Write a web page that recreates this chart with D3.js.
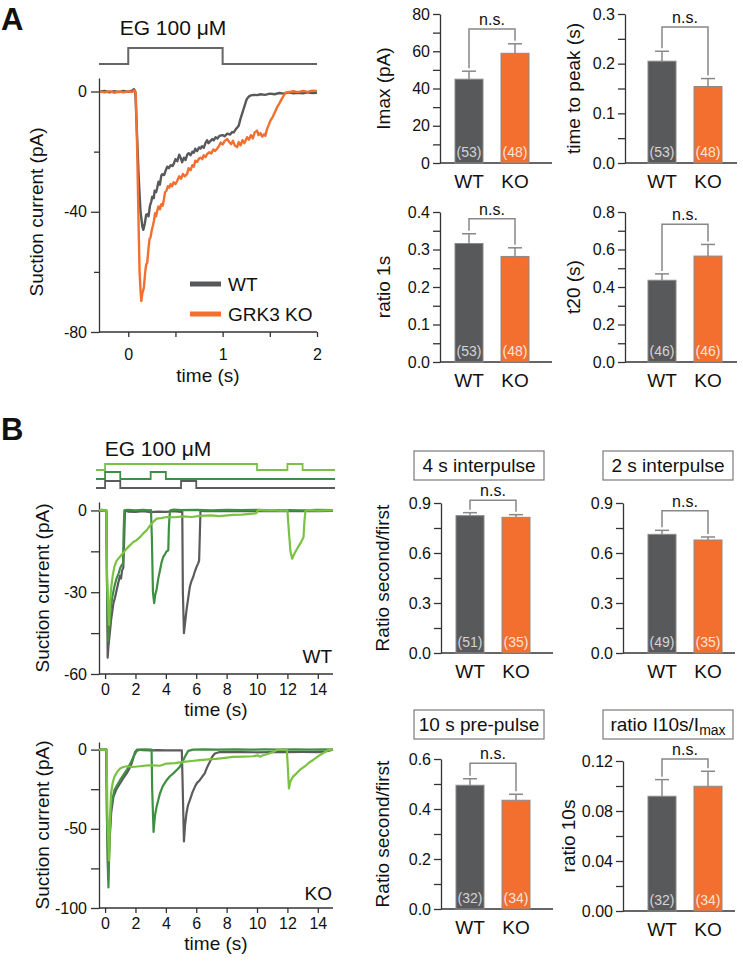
<!DOCTYPE html>
<html><head><meta charset="utf-8">
<script src="https://cdn.jsdelivr.net/npm/d3@7"></script>
<style>body{margin:0;background:#fff} text{font-family:"Liberation Sans",Arial,Helvetica,sans-serif;fill:#111}</style>
</head><body><svg id="c" width="743" height="961"></svg>
<script>
// ---------------- DATA ----------------
const groups = ["WT", "KO"];

// Panel A traces [time (s), current (pA)]
const traceA_WT = [[-0.3,0],[-0.25,0.2],[-0.2,-0.3],[-0.15,0.1],[-0.1,-0.2],[-0.05,0.2],[0,-0.1],[0.04,0.3],[0.06,0.8],[0.075,0],[0.09,-12],[0.11,-28],[0.13,-40],[0.15,-45],[0.16,-46],[0.175,-44],[0.19,-41],[0.2,-40.8],[0.215,-41.5],[0.23,-38],[0.245,-36.5],[0.254,-35],[0.27,-35.5],[0.28,-33],[0.295,-33.5],[0.307,-32],[0.32,-30],[0.335,-31],[0.35,-28],[0.36,-27.5],[0.38,-27.8],[0.4,-26],[0.413,-25],[0.43,-25.5],[0.45,-24.5],[0.47,-24.8],[0.483,-24],[0.5,-22.5],[0.52,-23.2],[0.54,-21],[0.555,-22],[0.57,-23.5],[0.59,-22],[0.607,-22.8],[0.625,-21],[0.64,-20.5],[0.66,-21.2],[0.68,-20],[0.695,-20.4],[0.71,-19],[0.73,-19.8],[0.75,-18.6],[0.765,-19],[0.78,-18.2],[0.8,-18.7],[0.82,-17],[0.836,-16.2],[0.85,-17.2],[0.87,-16.5],[0.89,-15.8],[0.906,-16.3],[0.925,-15.2],[0.945,-15.6],[0.965,-14.8],[0.977,-14.7],[1.0,-14.5],[1.02,-14.9],[1.05,-14],[1.08,-14.3],[1.1,-13.5],[1.118,-13.6],[1.14,-12.5],[1.16,-11.8],[1.171,-11.3],[1.19,-9],[1.21,-7],[1.23,-5],[1.25,-3],[1.259,-2.4],[1.28,-1.6],[1.3,-1.3],[1.33,-1.1],[1.37,-1.2],[1.4,-0.9],[1.45,-1.1],[1.5,-0.7],[1.55,-0.9],[1.6,-0.5],[1.65,-0.7],[1.7,-0.3],[1.75,-0.6],[1.8,-0.4],[1.85,-0.6],[1.9,-0.3],[1.95,-0.5],[2.0,-0.4]];
const traceA_KO = [[-0.3,0],[-0.25,-0.3],[-0.2,0.1],[-0.15,-0.4],[-0.1,0],[-0.05,-0.3],[0,0.1],[0.04,-0.2],[0.065,0.4],[0.08,-0.5],[0.095,-20],[0.11,-45],[0.12,-60],[0.13,-66],[0.138,-69.7],[0.15,-67],[0.16,-66],[0.166,-65],[0.18,-60],[0.19,-57.5],[0.201,-57],[0.215,-52],[0.226,-49],[0.236,-48.5],[0.25,-46],[0.262,-44.5],[0.272,-43],[0.285,-40.5],[0.295,-41.5],[0.307,-39.7],[0.32,-38.2],[0.335,-39.2],[0.35,-37.5],[0.365,-38],[0.377,-36],[0.39,-33.5],[0.405,-33],[0.42,-31.5],[0.435,-32],[0.448,-30.8],[0.465,-31.5],[0.48,-30.2],[0.5,-30.8],[0.519,-29.7],[0.54,-28.2],[0.56,-29],[0.58,-27.4],[0.6,-28.2],[0.624,-27.4],[0.64,-25.5],[0.66,-26.2],[0.68,-24.5],[0.695,-25],[0.71,-23],[0.73,-23.4],[0.75,-22.3],[0.765,-22],[0.785,-22.5],[0.8,-21.2],[0.82,-21.8],[0.836,-20.8],[0.86,-20.2],[0.88,-20.6],[0.9,-19.3],[0.92,-19.8],[0.942,-19],[0.96,-18.2],[0.98,-17],[1.0,-17.6],[1.02,-16.5],[1.048,-15.8],[1.07,-16.8],[1.09,-17.5],[1.11,-16.4],[1.13,-18],[1.153,-18.5],[1.17,-16.8],[1.19,-17.9],[1.21,-16.2],[1.23,-17.2],[1.259,-15.2],[1.28,-16],[1.3,-14.5],[1.32,-15.6],[1.34,-13.6],[1.365,-13],[1.38,-14.5],[1.4,-13.8],[1.42,-15],[1.44,-14.2],[1.453,-14.7],[1.47,-12.5],[1.49,-11],[1.506,-9.7],[1.53,-8.5],[1.555,-6.8],[1.577,-5.2],[1.6,-4],[1.63,-2.3],[1.665,-0.4],[1.7,-0.2],[1.75,0.1],[1.8,-0.2],[1.85,0.2],[1.9,-0.1],[1.95,0.3],[2.0,0.2]];
const stimA = [[0, 1]];

// Panel B traces, WT
const traceB_WT_4s = [[-0.4,0],[-0.2,0.2],[0,-0.1],[0.08,0],[0.12,-20],[0.17,-54],[0.22,-50],[0.33,-44],[0.4,-40],[0.55,-34],[0.65,-32],[0.77,-29],[0.85,-27],[0.98,-24],[1.05,-25],[1.12,-22],[1.2,-21],[1.25,-12],[1.31,0],[1.5,-0.4],[2,-0.5],[2.5,-0.3],[3,-0.6],[3.5,-0.4],[4,-0.5],[4.5,-0.3],[5.0,-0.5],[5.08,-0.4],[5.12,-30],[5.19,-45],[5.25,-42],[5.36,-36.6],[5.45,-33],[5.58,-28],[5.68,-26],[5.8,-24.4],[5.9,-22.5],[6.02,-20.7],[6.12,-19.5],[6.19,-18.3],[6.24,-8],[6.28,0],[6.5,-0.3],[7,-0.2],[8,-0.3],[9,-0.2],[10,-0.3],[11,-0.2],[12,-0.3],[13,-0.2],[14,-0.3],[15,-0.2]];
const traceB_WT_2s = [[-0.4,0],[-0.2,-0.2],[0,0.1],[0.08,0],[0.12,-25],[0.2,-48],[0.27,-43],[0.39,-35],[0.5,-31],[0.61,-28],[0.75,-25],[0.9,-23],[1.0,-21],[1.1,-20],[1.18,-19.5],[1.22,-8],[1.27,0],[1.5,0.2],[2,0],[2.5,0.2],[2.9,0],[3.02,0.1],[3.08,-10],[3.15,-30],[3.23,-34],[3.3,-31],[3.39,-29],[3.5,-25],[3.61,-22],[3.72,-19],[3.83,-17],[3.95,-16],[4.05,-15],[4.16,-14.6],[4.2,-6],[4.27,0],[4.5,0.3],[5,0.1],[6,0.2],[7,0],[8,0.2],[9,0.1],[10,0.2],[11,0],[12,0.1],[13,0],[14,0.2],[15,0.1]];
const traceB_WT_10s = [[-0.4,0],[-0.2,0.2],[0,0],[0.08,0.1],[0.13,-25],[0.26,-42],[0.32,-35],[0.39,-29],[0.5,-24],[0.61,-20.7],[0.75,-18.5],[0.98,-17],[1.2,-15.5],[1.42,-14],[1.6,-13],[1.86,-11.6],[2.05,-11],[2.3,-9.8],[2.5,-8.5],[2.73,-7.3],[2.9,-6],[3.06,-4.9],[3.2,-4],[3.39,-3],[3.7,-2.8],[4.05,-2.4],[4.6,-2.5],[5.14,-2.2],[5.7,-2.4],[6.23,-2],[7,-1.8],[7.5,-2.1],[8.42,-1.6],[9,-1.5],[9.73,-1.2],[9.95,-1],[10.06,0.2],[10.5,0],[11,0.1],[11.5,-0.1],[12.0,0],[12.1,-8],[12.2,-15],[12.31,-17.7],[12.45,-16],[12.58,-14.6],[12.75,-13],[12.9,-11.6],[13.06,-9.8],[13.12,-4],[13.19,0],[13.5,0.1],[14,-0.1],[14.5,0],[15,0]];
// Panel B traces, KO
const traceB_KO_4s = [[-0.4,0],[-0.2,0.2],[0,0],[0.08,0],[0.12,-40],[0.2,-82],[0.28,-60],[0.4,-40],[0.55,-29.8],[0.75,-25],[0.98,-21.4],[1.2,-18],[1.42,-15],[1.6,-12],[1.75,-8.8],[1.87,-5],[1.97,-1.5],[2.12,0],[2.5,-0.3],[3,-0.5],[3.5,-0.3],[4,-0.5],[4.5,-0.4],[5.05,-0.5],[5.1,-20],[5.19,-58],[5.26,-48],[5.36,-40],[5.46,-35],[5.58,-31.9],[5.75,-27],[5.91,-23.5],[6.05,-21],[6.23,-19.3],[6.4,-17],[6.56,-15],[6.7,-11.5],[6.89,-7.8],[7.05,-4.5],[7.22,-2.5],[7.55,-1.5],[8,-1.6],[9,-1.5],[10,-1.7],[11,-1.5],[12,-1.6],[13,-1.5],[14,-1.6],[14.5,-1.2],[14.8,-0.5],[15,0]];
const traceB_KO_2s = [[-0.4,0],[-0.2,-0.2],[0,0.1],[0.08,0],[0.13,-45],[0.22,-87],[0.3,-55],[0.39,-36],[0.61,-25.6],[0.98,-19.3],[1.42,-13],[1.65,-9],[1.86,-4.6],[2.08,-0.8],[2.3,0],[2.6,0.2],[3.0,0],[3.06,0],[3.1,-25],[3.19,-52],[3.28,-42],[3.39,-36],[3.61,-27.7],[3.8,-23],[4.05,-19.3],[4.25,-17],[4.49,-15],[4.7,-13],[4.92,-10.9],[5.1,-7.5],[5.25,-4.6],[5.47,-0.8],[5.8,0],[6.5,0.2],[7.5,0],[8.5,0.2],[9.5,0],[10.5,0.1],[11.5,0],[12.5,0.2],[13.5,0],[14.5,0.1],[15,0]];
const traceB_KO_10s = [[-0.4,0],[-0.2,0.1],[0,0],[0.1,0],[0.15,-40],[0.26,-70],[0.32,-45],[0.39,-27.7],[0.5,-21],[0.61,-17.2],[0.8,-14],[0.98,-12],[1.2,-11],[1.42,-10.5],[1.8,-11],[2.3,-10.5],[2.8,-10],[3.2,-9.9],[3.6,-10.2],[4.05,-8.8],[4.6,-8.5],[5.14,-7.8],[5.7,-7.2],[6.23,-6.7],[6.8,-6.2],[7.3,-5.9],[7.9,-5.2],[8.42,-4.6],[9.1,-4.4],[9.73,-4.2],[10.06,-3.6],[10.2,-4.5],[10.39,-3.6],[10.7,-2.8],[11.05,-1.5],[11.37,0],[11.96,0],[12.02,-10],[12.1,-24.5],[12.2,-20],[12.36,-17.2],[12.6,-15],[12.8,-13],[13.0,-11.5],[13.23,-9.9],[13.45,-8],[13.67,-6.7],[13.9,-5],[14.11,-3.6],[14.4,-2],[14.65,-0.4],[14.87,0],[15,0]];
const stimB_10s = [[0, 10], [12, 13]];
const stimB_2s = [[0, 1], [3, 4]];
const stimB_4s = [[0, 1], [5, 6]];

// Bar chart values: mean, SEM, n, bracket height
const imaxMean = [45, 58.9], imaxErr = [4.3, 5.1], imaxN = [53, 48], imaxBracket = 72;
const ttpMean = [0.205, 0.154], ttpErr = [0.02, 0.016], ttpN = [53, 48], ttpBracket = 0.274;
const r1Mean = [0.316, 0.2815], r1Err = [0.026, 0.023], r1N = [53, 48], r1Bracket = 0.382;
const t20Mean = [0.436, 0.565], t20Err = [0.034, 0.062], t20N = [46, 46], t20Bracket = 0.735;
const i4Mean = [0.824, 0.814], i4Err = [0.018, 0.016], i4N = [51, 35], i4Bracket = 0.916;
const i2Mean = [0.712, 0.678], i2Err = [0.024, 0.018], i2N = [49, 35], i2Bracket = 0.854;
const p10Mean = [0.495, 0.435], p10Err = [0.026, 0.024], p10N = [32, 34], p10Bracket = 0.583;
const r10Mean = [0.0918, 0.0998], r10Err = [0.0133, 0.012], r10N = [32, 34], r10Bracket = 0.1216;

// Tick values
const imaxTicks = [0, 20, 40, 60, 80], imaxMinor = [10, 30, 50, 70];
const ttpTicks = [0, 0.1, 0.2, 0.3], ttpMinor = [0.05, 0.15, 0.25];
const r1Ticks = [0, 0.1, 0.2, 0.3, 0.4], r1Minor = [0.05, 0.15, 0.25, 0.35];
const t20Ticks = [0, 0.2, 0.4, 0.6, 0.8], t20Minor = [0.1, 0.3, 0.5, 0.7];
const iTicks = [0, 0.3, 0.6, 0.9], iMinor = [0.15, 0.45, 0.75];
const p10Ticks = [0, 0.2, 0.4, 0.6], p10Minor = [0.1, 0.3, 0.5];
const r10Ticks = [0, 0.04, 0.08, 0.12], r10Minor = [0.02, 0.06, 0.1];
const traceATimeTicks = [0, 1, 2], traceATimeMinor = [0.5, 1.5];
const traceACurTicks = [0, -40, -80], traceACurMinor = [-20, -60];
const traceBTimeTicks = [0, 2, 4, 6, 8, 10, 12, 14];
const traceBWTTicks = [0, -30, -60], traceBWTMinor = [-15, -45];
const traceBKOTicks = [0, -50, -100], traceBKOMinor = [-25, -75];

// ---------------- DRAWING ----------------
const COL = {wt: "#58595b", ko: "#f26f2f", light: "#7cc242", mid: "#3f8f42", gray: "#5b5b5d",
             line: "#888888", axis: "#333333", stim: "#666666"};
const FS = {tick: 16, cat: 19, title: 19, ns: 16, n: 14, box: 19, eg: 21, panel: 31};
const svg = d3.select("#c");
svg.append("rect").attr("width", 743).attr("height", 961).attr("fill", "#fff");

function txt(g, x, y, s, size, anchor) {
  return g.append("text").attr("x", x).attr("y", y).attr("font-size", size)
    .attr("text-anchor", anchor || "start").text(s);
}
function vtxt(g, x, y, s, size) {
  return g.append("text").attr("transform", `translate(${x},${y}) rotate(-90)`)
    .attr("text-anchor", "middle").attr("font-size", size).text(s);
}
function styleAxis(sel, fontSize) {
  sel.select(".domain").attr("stroke", COL.axis).attr("stroke-width", 1.3);
  sel.selectAll(".tick line").attr("stroke", COL.axis).attr("stroke-width", 1.3);
  sel.selectAll(".tick text").attr("font-size", fontSize).attr("fill", "#111")
    .attr("font-family", '"Liberation Sans",Arial,sans-serif');
}

// ---- generic bar chart ----
function barChart(o) {
  const g = svg.append("g");
  const y = d3.scaleLinear().domain([0, o.max]).range([o.y0, o.yTop]);
  const x = d3.scaleBand().domain(groups).range([o.bx, o.bx + 74]).paddingInner(18 / 46).paddingOuter(0);
  const fmt = d3.format(o.fmt);
  const major = d3.axisLeft(y).tickValues(o.ticks).tickSize(7).tickSizeOuter(0).tickPadding(3).tickFormat(fmt);
  const ga = g.append("g").attr("transform", `translate(${o.ax},0)`).call(major);
  styleAxis(ga, FS.tick);
  const minor = d3.axisLeft(y).tickValues(o.minor).tickSize(7).tickSizeOuter(0).tickFormat("");
  const gm = g.append("g").attr("transform", `translate(${o.ax},0)`).call(minor);
  styleAxis(gm, FS.tick);
  gm.select(".domain").remove();
  g.append("line").attr("x1", o.ax).attr("x2", o.ax + 112).attr("y1", o.y0).attr("y2", o.y0)
    .attr("stroke", COL.axis).attr("stroke-width", 1.3);
  const cols = [COL.wt, COL.ko];
  const nCols = ["#d4d4d4", "#ffe4d6"];
  groups.forEach((k, i) => {
    const cx = x(k) + x.bandwidth() / 2;
    g.append("line").attr("x1", cx).attr("x2", cx).attr("y1", y(o.mean[i])).attr("y2", y(o.mean[i] + o.err[i]))
      .attr("stroke", COL.line).attr("stroke-width", 1.5);
    g.append("line").attr("x1", cx - 7).attr("x2", cx + 7).attr("y1", y(o.mean[i] + o.err[i])).attr("y2", y(o.mean[i] + o.err[i]))
      .attr("stroke", COL.line).attr("stroke-width", 1.5);
    g.append("rect").attr("x", x(k)).attr("width", x.bandwidth()).attr("y", y(o.mean[i]))
      .attr("height", y(0) - y(o.mean[i])).attr("fill", cols[i]).attr("stroke", "#8a8a8a").attr("stroke-width", 1);
    txt(g, cx, o.y0 - 6, `(${o.n[i]})`, FS.n, "middle").style("fill", nCols[i]);
    txt(g, cx, o.y0 + 25, k, FS.cat, "middle");
  });
  const c0 = x("WT") + x.bandwidth() / 2, c1 = x("KO") + x.bandwidth() / 2;
  const yb = y(o.bracket);
  g.append("path").attr("d", `M${c0},${y(o.mean[0] + o.err[0]) - 3}V${yb}H${c1}V${y(o.mean[1] + o.err[1]) - 3}`)
    .attr("fill", "none").attr("stroke", COL.line).attr("stroke-width", 1.5);
  txt(g, (c0 + c1) / 2, yb - 4, "n.s.", FS.ns, "middle");
  if (o.label) vtxt(g, o.labX, (o.y0 + o.yTop) / 2, o.label, FS.title);
  return g;
}

barChart({ax: 440, bx: 455, y0: 163, yTop: 14, max: 80, fmt: "d", ticks: imaxTicks, minor: imaxMinor,
  mean: imaxMean, err: imaxErr, n: imaxN, bracket: imaxBracket, label: "Imax (pA)", labX: 390});
barChart({ax: 625, bx: 648, y0: 163, yTop: 14, max: 0.3, fmt: ".1f", ticks: ttpTicks, minor: ttpMinor,
  mean: ttpMean, err: ttpErr, n: ttpN, bracket: ttpBracket, label: "time to peak (s)", labX: 580});
barChart({ax: 440, bx: 455, y0: 362, yTop: 212, max: 0.4, fmt: ".1f", ticks: r1Ticks, minor: r1Minor,
  mean: r1Mean, err: r1Err, n: r1N, bracket: r1Bracket, label: "ratio 1s", labX: 390});
barChart({ax: 625, bx: 648, y0: 362, yTop: 212, max: 0.8, fmt: ".1f", ticks: t20Ticks, minor: t20Minor,
  mean: t20Mean, err: t20Err, n: t20N, bracket: t20Bracket, label: "t20 (s)", labX: 580});
barChart({ax: 441, bx: 456, y0: 653, yTop: 503, max: 0.9, fmt: ".1f", ticks: iTicks, minor: iMinor,
  mean: i4Mean, err: i4Err, n: i4N, bracket: i4Bracket, label: "Ratio second/first", labX: 389});
barChart({ax: 623, bx: 648, y0: 653, yTop: 503, max: 0.9, fmt: ".1f", ticks: iTicks, minor: iMinor,
  mean: i2Mean, err: i2Err, n: i2N, bracket: i2Bracket, label: "", labX: 578});
barChart({ax: 441, bx: 456, y0: 909, yTop: 759, max: 0.6, fmt: ".1f", ticks: p10Ticks, minor: p10Minor,
  mean: p10Mean, err: p10Err, n: p10N, bracket: p10Bracket, label: "Ratio second/first", labX: 389});
barChart({ax: 623, bx: 648, y0: 911, yTop: 761, max: 0.12, fmt: ".2f", ticks: r10Ticks, minor: r10Minor,
  mean: r10Mean, err: r10Err, n: r10N, bracket: r10Bracket, label: "ratio 10s", labX: 575});

// Box titles
function boxTitle(x, y, w, h, build) {
  svg.append("rect").attr("x", x).attr("y", y).attr("width", w).attr("height", h)
    .attr("fill", "none").attr("stroke", "#7a7a7a").attr("stroke-width", 1.2);
  const t = svg.append("text").attr("x", x + w / 2).attr("y", y + h - 8.5).attr("text-anchor", "middle").attr("font-size", FS.box);
  build(t);
}
boxTitle(414, 451, 130, 29, t => t.text("4 s interpulse"));
boxTitle(603, 451, 130, 29, t => t.text("2 s interpulse"));
boxTitle(414, 710, 130, 29, t => t.text("10 s pre-pulse"));
boxTitle(603, 710, 130, 29, t => {
  t.append("tspan").text("ratio I10s/I");
  t.append("tspan").attr("font-size", 14).attr("dy", 4).text("max");
});

// ---------------- Panel A traces ----------------
const gA = svg.append("g");
txt(gA, 1, 30, "A", FS.panel).attr("font-weight", "bold");
const xA = d3.scaleLinear().domain([-0.31, 2]).range([99, 317]);
const yA = d3.scaleLinear().domain([-80, 4.5]).range([332, 78]);
function stimPath(x, intervals, x0, x1, yLow, yHigh) {
  let d = `M${x0},${yLow}`;
  intervals.forEach(([a, b]) => { d += `H${x(a)}V${yHigh}H${x(b)}V${yLow}`; });
  return d + `H${x1}`;
}
gA.append("path").attr("d", stimPath(xA, stimA, 99, 317, 64, 48)).attr("fill", "none")
  .attr("stroke", COL.stim).attr("stroke-width", 2);
txt(gA, 173, 35, "EG 100 \u03bcM", FS.eg, "middle");
const gAy = gA.append("g").attr("transform", "translate(99,0)")
  .call(d3.axisLeft(yA).tickValues(traceACurTicks).tickSize(8).tickSizeOuter(0).tickPadding(4).tickFormat(d => String(d)));
styleAxis(gAy, FS.tick);
const gAym = gA.append("g").attr("transform", "translate(99,0)")
  .call(d3.axisLeft(yA).tickValues(traceACurMinor).tickSize(5).tickSizeOuter(0).tickFormat(""));
styleAxis(gAym, FS.tick); gAym.select(".domain").remove();
const gAx = gA.append("g").attr("transform", "translate(0,332)")
  .call(d3.axisBottom(xA).tickValues(traceATimeTicks).tickSize(5).tickSizeOuter(0).tickPadding(12).tickFormat(d3.format("d")));
styleAxis(gAx, FS.tick);
gAx.select(".domain").attr("d", "M99,0H317");
const gAxm = gA.append("g").attr("transform", "translate(0,332)")
  .call(d3.axisBottom(xA).tickValues(traceATimeMinor).tickSize(5).tickSizeOuter(0).tickFormat(""));
styleAxis(gAxm, FS.tick); gAxm.select(".domain").remove();
const lineA = d3.line().x(d => xA(d[0])).y(d => yA(d[1]));
gA.append("path").datum(traceA_WT).attr("d", lineA).attr("fill", "none").attr("stroke", COL.wt).attr("stroke-width", 2.4).attr("stroke-linejoin", "round");
gA.append("path").datum(traceA_KO).attr("d", lineA).attr("fill", "none").attr("stroke", COL.ko).attr("stroke-width", 2.4).attr("stroke-linejoin", "round");
vtxt(gA, 43, 212, "Suction current (pA)", FS.title);
txt(gA, 208, 382, "time (s)", FS.title, "middle");
gA.append("line").attr("x1", 190).attr("x2", 221).attr("y1", 284).attr("y2", 284).attr("stroke", COL.wt).attr("stroke-width", 5);
gA.append("line").attr("x1", 190).attr("x2", 221).attr("y1", 314).attr("y2", 314).attr("stroke", COL.ko).attr("stroke-width", 5);
txt(gA, 228, 291, "WT", FS.cat);
txt(gA, 228, 321, "GRK3 KO", FS.cat);

// ---------------- Panel B traces ----------------
const gB = svg.append("g");
txt(gB, 1, 440, "B", FS.panel).attr("font-weight", "bold");
txt(gB, 158, 456, "EG 100 \u03bcM", FS.eg, "middle");
const xB = d3.scaleLinear().domain([-0.4, 15]).range([99, 333]);
gB.append("path").attr("d", stimPath(xB, stimB_10s, 96, 335, 470, 464)).attr("fill", "none").attr("stroke", COL.light).attr("stroke-width", 1.8);
gB.append("path").attr("d", stimPath(xB, stimB_2s, 96, 335, 479, 472)).attr("fill", "none").attr("stroke", COL.mid).attr("stroke-width", 1.8);
gB.append("path").attr("d", stimPath(xB, stimB_4s, 96, 335, 488, 481)).attr("fill", "none").attr("stroke", COL.gray).attr("stroke-width", 1.8);

function traceChart(yDomain, yRange, majors, minors, series, label, tagY, timeY) {
  const y = d3.scaleLinear().domain(yDomain).range(yRange);
  const g = gB.append("g");
  const ay = g.append("g").attr("transform", "translate(99,0)")
    .call(d3.axisLeft(y).tickValues(majors).tickSize(8).tickSizeOuter(0).tickPadding(4).tickFormat(d => String(d)));
  styleAxis(ay, FS.tick);
  const aym = g.append("g").attr("transform", "translate(99,0)")
    .call(d3.axisLeft(y).tickValues(minors).tickSize(8).tickSizeOuter(0).tickFormat(""));
  styleAxis(aym, FS.tick); aym.select(".domain").remove();
  const ax = g.append("g").attr("transform", `translate(0,${yRange[0]})`)
    .call(d3.axisBottom(xB).tickValues(traceBTimeTicks).tickSize(5).tickSizeOuter(0).tickPadding(5).tickFormat(d3.format("d")));
  styleAxis(ax, FS.tick);
  ax.select(".domain").attr("d", "M99,0H333");
  const line = d3.line().x(d => xB(d[0])).y(d => y(d[1]));
  series.forEach(([data, c]) => {
    g.append("path").datum(data).attr("d", line).attr("fill", "none").attr("stroke", c)
      .attr("stroke-width", 2.2).attr("stroke-linejoin", "round");
  });
  vtxt(g, 49, (yRange[0] + yRange[1]) / 2, "Suction current (pA)", FS.title);
  txt(g, 332, tagY, label, FS.cat, "end");
  txt(g, 216, timeY, "time (s)", FS.title, "middle");
}
traceChart([-60, 3.1], [674, 502], traceBWTTicks, traceBWTMinor,
  [[traceB_WT_4s, COL.gray], [traceB_WT_2s, COL.mid], [traceB_WT_10s, COL.light]], "WT", 663, 716);
traceChart([-100, 4.8], [908, 742], traceBKOTicks, traceBKOMinor,
  [[traceB_KO_4s, COL.gray], [traceB_KO_2s, COL.mid], [traceB_KO_10s, COL.light]], "KO", 900, 950);
</script></body></html>
